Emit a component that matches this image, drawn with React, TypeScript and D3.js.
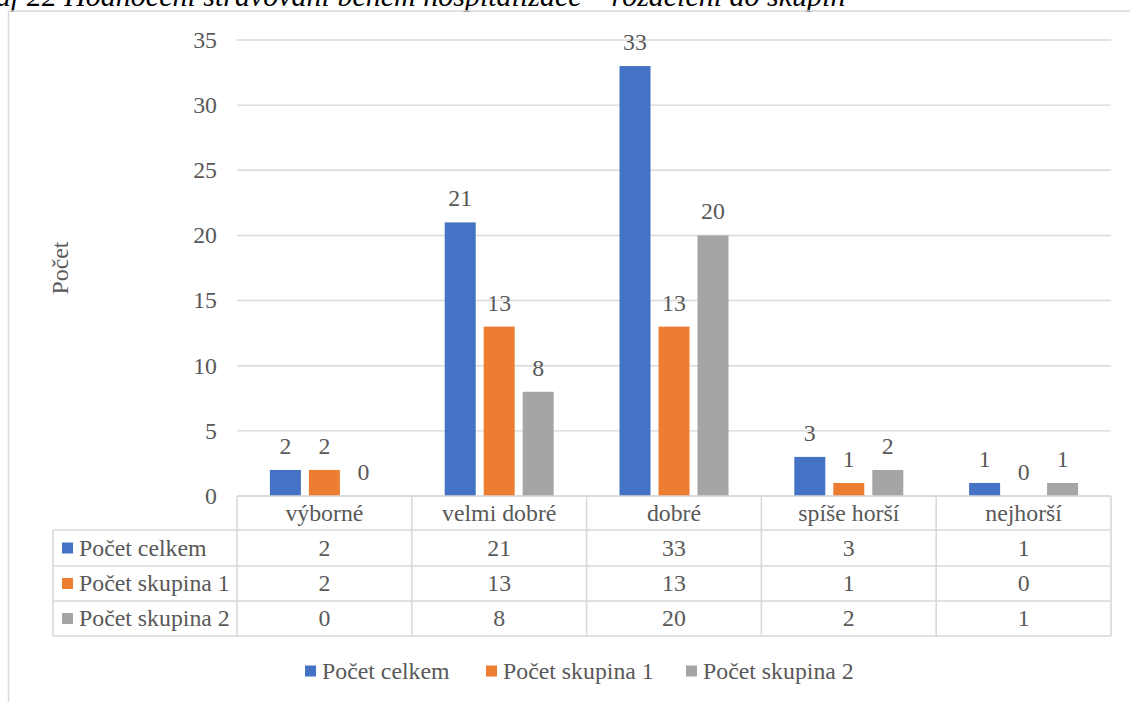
import React from "react";
import * as d3 from "d3";

// Ratings of hospital meals, split into groups
const categories = ["výborné", "velmi dobré", "dobré", "spíše horší", "nejhorší"];
const seriesNames = ["Počet celkem", "Počet skupina 1", "Počet skupina 2"];
const pocetCelkem = [2, 21, 33, 3, 1];
const pocetSkupina1 = [2, 13, 13, 1, 0];
const pocetSkupina2 = [0, 8, 20, 2, 1];
const yTicks = [0, 5, 10, 15, 20, 25, 30, 35];
const seriesColors = ["#4472C4", "#ED7D31", "#A5A5A5"];

const seriesValues = [pocetCelkem, pocetSkupina1, pocetSkupina2];

const W = 1130;
const H = 702;
const TEXT = "#595959";
const GRID = "#D9D9D9";
const BASE_FS = 28;
const FS = 23.8;
const K = FS / BASE_FS;

const plotLeft = 237;
const plotRight = 1111;
const plotTop = 40;
const plotBottom = 496;
const tableLeft = 53;
const rowEdges = [496, 530, 566, 601, 636];
const legendStarts = [305, 486, 686];
const legendY = 671;

// text is set at a base size and scaled down to the final size
function Label(props: {
  x: number;
  y: number;
  anchor?: string;
  mid?: boolean;
  rotate?: number;
  children: React.ReactNode;
}) {
  return (
    <g transform={`translate(${props.x},${props.y}) rotate(${props.rotate ?? 0}) scale(${K})`}>
      <text
        x={0}
        y={0}
        dy={props.mid ? "0.33em" : undefined}
        textAnchor={props.anchor ?? "start"}
        fill={TEXT}
        style={{ fontFamily: '"Liberation Serif"', fontSize: BASE_FS }}
      >
        {props.children}
      </text>
    </g>
  );
}

export default function App() {
  const x = d3.scaleBand<string>().domain(categories).range([plotLeft, plotRight]);
  const y = d3.scaleLinear().domain([0, 35]).range([plotBottom, plotTop]);
  const groupWidth = 109;
  const xSub = d3
    .scaleBand<string>()
    .domain(seriesNames)
    .range([-groupWidth / 2, groupWidth / 2])
    .paddingInner(8 / 39);

  const colEdges = [...categories.map((c) => x(c)!), plotRight];

  return (
    <svg width={W} height={H} style={{ position: "absolute", left: 0, top: 0, background: "#fff" }}>
      {/* caption above the chart */}
      <text x={-37.5} y={6} fill="#000" style={{ fontFamily: '"Liberation Serif"', fontSize: 30, fontStyle: "italic" }}>
        Graf 22 Hodnocení stravování během hospitalizace – rozdělení do skupin
      </text>

      {/* chart frame */}
      <line x1={8.5} x2={8.5} y1={11} y2={H} stroke={GRID} strokeWidth={1.5} />
      <line x1={8.5} x2={W} y1={11} y2={11} stroke={GRID} strokeWidth={1.5} />

      {/* gridlines and y tick labels */}
      {yTicks.map((t) => (
        <g key={t}>
          <line x1={plotLeft} x2={plotRight} y1={y(t)} y2={y(t)} stroke={GRID} strokeWidth={1.4} />
          <Label x={217} y={y(t)} mid anchor="end">
            {t}
          </Label>
        </g>
      ))}

      {/* y axis title */}
      <Label x={68} y={(plotTop + plotBottom) / 2} rotate={-90} anchor="middle">
        Počet
      </Label>

      {/* bars and value labels */}
      {categories.map((c, ci) => {
        const cx = x(c)! + x.bandwidth() / 2;
        return (
          <g key={c}>
            {seriesNames.map((s, si) => {
              const v = seriesValues[si][ci];
              const bx = cx + xSub(s)!;
              const top = y(v);
              return (
                <g key={s}>
                  {v > 0 && (
                    <rect x={bx} y={top} width={xSub.bandwidth()} height={plotBottom - top} fill={seriesColors[si]} />
                  )}
                  <Label x={bx + xSub.bandwidth() / 2} y={top - 16} anchor="middle">
                    {v}
                  </Label>
                </g>
              );
            })}
          </g>
        );
      })}

      {/* data table */}
      <g stroke={GRID} strokeWidth={1.6}>
        {rowEdges.map((ry, i) => (
          <line key={ry} x1={i === 0 ? plotLeft : tableLeft} x2={plotRight} y1={ry} y2={ry} />
        ))}
        <line x1={tableLeft} x2={tableLeft} y1={rowEdges[1]} y2={rowEdges[4]} />
        {colEdges.map((cxe) => (
          <line key={cxe} x1={cxe} x2={cxe} y1={rowEdges[0]} y2={rowEdges[4]} />
        ))}
      </g>
      {categories.map((c) => (
        <Label key={c} x={x(c)! + x.bandwidth() / 2} y={(rowEdges[0] + rowEdges[1]) / 2} mid anchor="middle">
          {c}
        </Label>
      ))}
      {seriesNames.map((s, si) => {
        const cy = (rowEdges[si + 1] + rowEdges[si + 2]) / 2;
        return (
          <g key={s}>
            <rect x={62} y={cy - 5.5} width={11} height={11} fill={seriesColors[si]} />
            <Label x={79} y={cy} mid>
              {s}
            </Label>
            {categories.map((c, ci) => (
              <Label key={c} x={x(c)! + x.bandwidth() / 2} y={cy} mid anchor="middle">
                {seriesValues[si][ci]}
              </Label>
            ))}
          </g>
        );
      })}

      {/* legend */}
      {seriesNames.map((s, si) => (
        <g key={s} transform={`translate(${legendStarts[si]},${legendY})`}>
          <rect x={0} y={-5.5} width={11} height={11} fill={seriesColors[si]} />
          <Label x={17} y={0} mid>
            {s}
          </Label>
        </g>
      ))}
    </svg>
  );
}
